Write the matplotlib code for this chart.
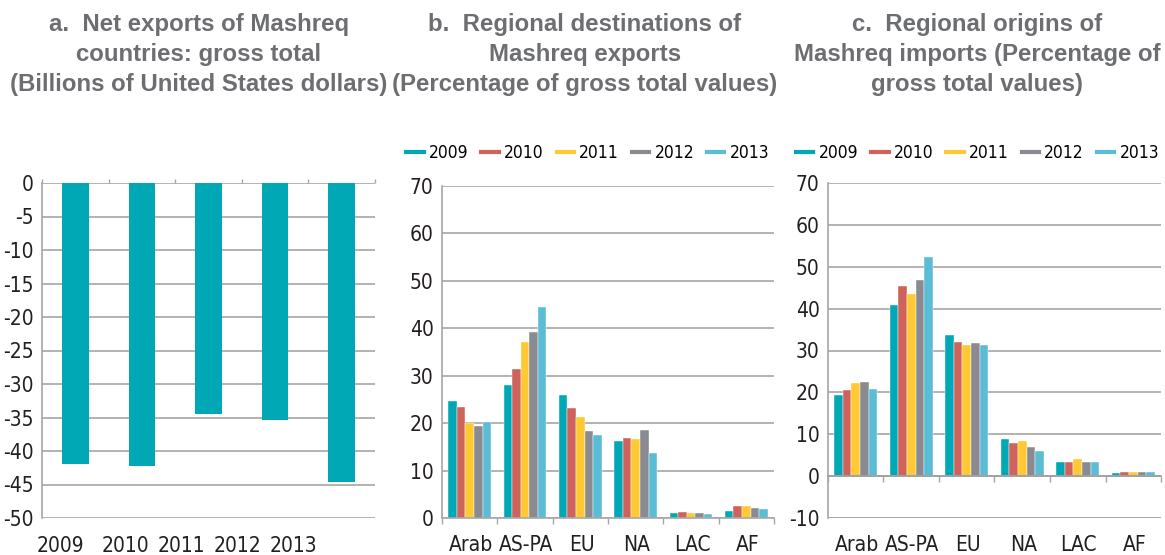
import numpy as np
import matplotlib.pyplot as plt
from matplotlib import font_manager as fm
from matplotlib.lines import Line2D

# Panel a: net exports, billions USD
years = ["2009", "2010", "2011", "2012", "2013"]
net_exports = [-42.0, -42.2, -34.5, -35.4, -44.6]

# Panels b and c: regional shares (%), one list per year
regions = ["Arab", "AS-PA", "EU", "NA", "LAC", "AF"]
dest_2009 = [24.6, 28.0, 25.9, 16.3, 1.1, 1.5]
dest_2010 = [23.3, 31.4, 23.1, 16.9, 1.3, 2.5]
dest_2011 = [20.0, 37.1, 21.2, 16.7, 1.1, 2.5]
dest_2012 = [19.5, 39.2, 18.3, 18.6, 1.0, 2.1]
dest_2013 = [20.2, 44.5, 17.6, 13.7, 0.8, 2.0]

orig_2009 = [19.4, 40.9, 33.7, 8.9, 3.4, 0.7]
orig_2010 = [20.6, 45.3, 32.1, 7.8, 3.4, 1.0]
orig_2011 = [22.2, 43.5, 31.3, 8.3, 4.2, 1.0]
orig_2012 = [22.5, 46.9, 31.9, 7.0, 3.4, 1.0]
orig_2013 = [20.8, 52.4, 31.3, 6.1, 3.3, 1.0]

COLORS = ["#00a8b5", "#d0625c", "#ffc933", "#8a8b91", "#5bbcd6"]
GRID = "#a6a6a6"
TITLE_COLOR = "#6d6e71"
TEXT_COLOR = "#231f20"
W, H = 1165, 555

# label positions of the year ticks in panel a (they sit off the bars in the original)
YEAR_LABEL_POS = [-0.22, 0.75, 1.59, 2.44, 3.27]


def pick_tick_font():
    # the original uses a condensed face; take one if the system has it
    for f in fm.fontManager.ttflist:
        low = f.fname.lower()
        if ("narrow" in low or "condensed" in low) and "bold" not in low and "italic" not in low \
                and "oblique" not in low and "light" not in low:
            return fm.FontProperties(fname=f.fname), True
    return fm.FontProperties(family="Liberation Sans"), False


TICK_FP, CONDENSED = pick_tick_font()
TICK_SIZE = 15 if CONDENSED else 12.5
LEGEND_SIZE = 12.5 if CONDENSED else 11


def tick_fp(size=None):
    fp = TICK_FP.copy()
    fp.set_size(size or TICK_SIZE)
    return fp


def px_axes(fig, left, top, right, bottom):
    return fig.add_axes([left / W, 1 - bottom / H, (right - left) / W, (bottom - top) / H])


def style_axes(ax, ymin, ymax, step):
    ax.set_ylim(ymin, ymax)
    ticks = np.arange(ymin, ymax + 1, step)
    ax.set_yticks(ticks)
    ax.set_yticklabels([str(int(t)) for t in ticks], fontproperties=tick_fp(), color=TEXT_COLOR)
    ax.yaxis.grid(True, color=GRID, linewidth=1.2)
    ax.set_axisbelow(True)
    for side in ["top", "right"]:
        ax.spines[side].set_visible(False)
    for side in ["left", "bottom"]:
        ax.spines[side].set_color(GRID)
        ax.spines[side].set_linewidth(1.2)
    ax.tick_params(axis="y", length=0, pad=6)
    ax.tick_params(axis="x", length=4, color=GRID, width=1)


def group_bars(ax, series, legend_x, legend_y):
    x = np.arange(len(regions))
    bw = 0.155
    for i, vals in enumerate(series):
        ax.bar(x + (i - 2) * bw, vals, bw, color=COLORS[i], edgecolor="white", linewidth=0.3)
    ax.set_xlim(-0.5, len(regions) - 0.5)
    ax.set_xticks(np.arange(-0.5, len(regions), 1.0))
    ax.set_xticklabels([])
    for xi, name in zip(x, regions):
        ax.text(xi + 0.02, -0.08, name, transform=ax.get_xaxis_transform(),
                ha="center", va="center", fontproperties=tick_fp(), color=TEXT_COLOR)
    handles = [Line2D([], [], color=c, lw=3) for c in COLORS]
    ax.legend(handles, years, loc="center left", bbox_to_anchor=(legend_x, legend_y),
              ncol=5, frameon=False, prop=tick_fp(LEGEND_SIZE), handlelength=1.0,
              handletextpad=0.3, columnspacing=0.75,
              borderaxespad=0, borderpad=0)


fig = plt.figure(figsize=(W / 100, H / 100), dpi=100)

# a
ax_a = px_axes(fig, 42, 183, 375, 518)
style_axes(ax_a, -50, 0, 5)
ax_a.spines["bottom"].set_visible(False)
ax_a.bar(np.arange(len(years)), net_exports, 0.4, color=COLORS[0])
ax_a.set_xlim(-0.5, len(years) - 0.5)
ax_a.xaxis.tick_top()
ax_a.set_xticks(np.arange(-0.5, len(years), 1.0))
ax_a.set_xticklabels([])
ax_a.tick_params(axis="x", length=3, color=GRID)
for pos, yr in zip(YEAR_LABEL_POS, years):
    ax_a.text(pos, -0.085, yr, transform=ax_a.get_xaxis_transform(),
              ha="center", va="center", fontproperties=tick_fp(), color=TEXT_COLOR)

# b
ax_b = px_axes(fig, 442, 186, 774, 518)
style_axes(ax_b, 0, 70, 10)
group_bars(ax_b, [dest_2009, dest_2010, dest_2011, dest_2012, dest_2013], -0.108, 1.1)

# c
ax_c = px_axes(fig, 828, 183, 1161, 518)
style_axes(ax_c, -10, 70, 10)
ax_c.axhline(0, color="#8c8c8c", linewidth=1.3)
ax_c.axhline(-10, color=GRID, linewidth=1.2)
group_bars(ax_c, [orig_2009, orig_2010, orig_2011, orig_2012, orig_2013], -0.096, 1.09)
ax_c.spines["bottom"].set_position(("data", 0))

titles = [
    (199, "a.  Net exports of Mashreq\ncountries: gross total\n(Billions of United States dollars)"),
    (585, "b.  Regional destinations of\nMashreq exports\n(Percentage of gross total values)"),
    (977, "c.  Regional origins of\nMashreq imports (Percentage of\ngross total values)"),
]
for cx, t in titles:
    fig.text(cx / W, 1 - 13 / H, t, ha="center", va="top", fontsize=17.3, fontweight="bold",
             color=TITLE_COLOR, family=["Liberation Sans", "DejaVu Sans"], linespacing=1.4)

fig.savefig("out.png", dpi=100)
